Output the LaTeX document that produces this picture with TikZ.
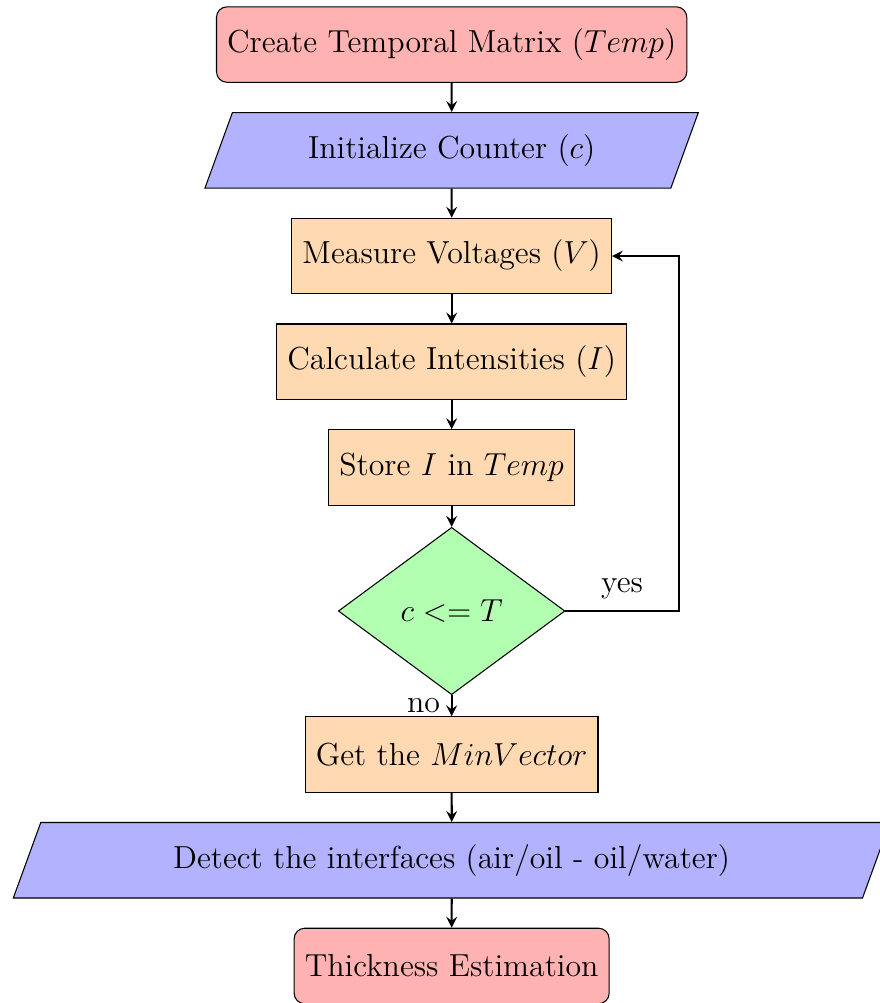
\documentclass[12pt,tikz,border=0pt]{standalone}
\usetikzlibrary{shapes.geometric,arrows}
\begin{document}
\begin{tikzpicture}
\tikzstyle{startstop}=[rectangle, rounded corners, minimum width=3cm, minimum height=1cm, text centered, draw=black, fill=red!30]
\tikzstyle{io}=[trapezium, trapezium left angle=70, trapezium right angle=110, minimum width=3cm, minimum height=1cm, text centered, draw=black, fill=blue!30]
\tikzstyle{process}=[rectangle, minimum width=3cm, minimum height=1cm, text centered, draw=black, fill=orange!30]
\tikzstyle{decision}=[diamond, minimum width=3cm, minimum height=1cm, text centered, draw=black, fill=green!30]
\tikzstyle{arrow}=[thick,->,>=stealth]
\useasboundingbox (-5.98,0.59) rectangle (5.67,-12.69);
\node (create) [startstop] at (0,0) {Create Temporal Matrix ($Temp$)};
\node (init) [io] at (0,-1.4) {Initialize Counter ($c$)};
\node (volt) [process] at (0,-2.8) {Measure Voltages ($V$)};
\node (calc) [process] at (0,-4.2) {Calculate Intensities ($I$)};
\node (store) [process] at (0,-5.6) {Store $I$ in $Temp$};
\node (dec) [decision] at (0,-7.5) {$c <= T$};
\node (minv) [process] at (0,-9.4) {Get the $MinVector$};
\node (detect) [io] at (0,-10.8) {Detect the interfaces (air/oil - oil/water)};
\node (thick) [startstop] at (0,-12.2) {Thickness Estimation};
\draw [arrow] (create) -- (init);
\draw [arrow] (init) -- (volt);
\draw [arrow] (volt) -- (calc);
\draw [arrow] (calc) -- (store);
\draw [arrow] (store) -- (dec);
\draw [arrow] (dec) -- node[anchor=east] {no} (minv);
\draw [arrow] (dec.east) -- node[anchor=south] {yes} ++(1.5,0) |- (volt.east);
\draw [arrow] (minv) -- (detect);
\draw [arrow] (detect) -- (thick);
\end{tikzpicture}
\end{document}
